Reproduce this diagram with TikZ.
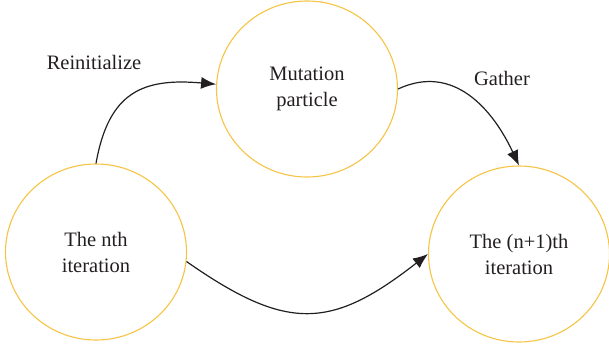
\documentclass[tikz,border=0pt]{standalone}
\usepackage{fontspec}
\setmainfont{Liberation Serif}
\usetikzlibrary{arrows.meta,positioning,shapes.geometric}

\definecolor{ringyellow}{RGB}{246,196,68}
\definecolor{inkgray}{RGB}{35,31,32}

\tikzset{
  stage/.style={draw=ringyellow, line width=1.1pt, ellipse, minimum width=181pt,
    minimum height=176pt, inner sep=0pt, align=center, text=inkgray,
    font=\fontsize{20.5}{26}\selectfont},
  tag/.style={text=inkgray, font=\fontsize{20.5}{26}\selectfont},
  flow/.style={->, line width=1.2pt, inkgray}
}

\begin{document}
\begin{tikzpicture}[x=1pt, y=1pt, >={Latex[length=15pt,width=12pt]}]
  \useasboundingbox (0,0) rectangle (609,349);

  \node[stage] (nth) at (96,97) {The nth\\iteration};
  \node[stage] (mut) at (307,260) {Mutation\\particle};
  \node[stage] (nxt) at (519,95) {The (n+1)th\\iteration};

  \node[tag] (reinit) at (94,287) {Reinitialize};
  \node[tag] (gather) at (502,271) {Gather};

  \draw[flow] (nth.north) to[out=80, in=175, looseness=1.3] (mut.177);
  \draw[flow] (mut.east) to[out=25, in=115, looseness=1.1] (nxt.north);
  \draw[flow] (nth.-6) to[out=-35, in=218, looseness=1.3] (nxt.west);
\end{tikzpicture}
\end{document}
